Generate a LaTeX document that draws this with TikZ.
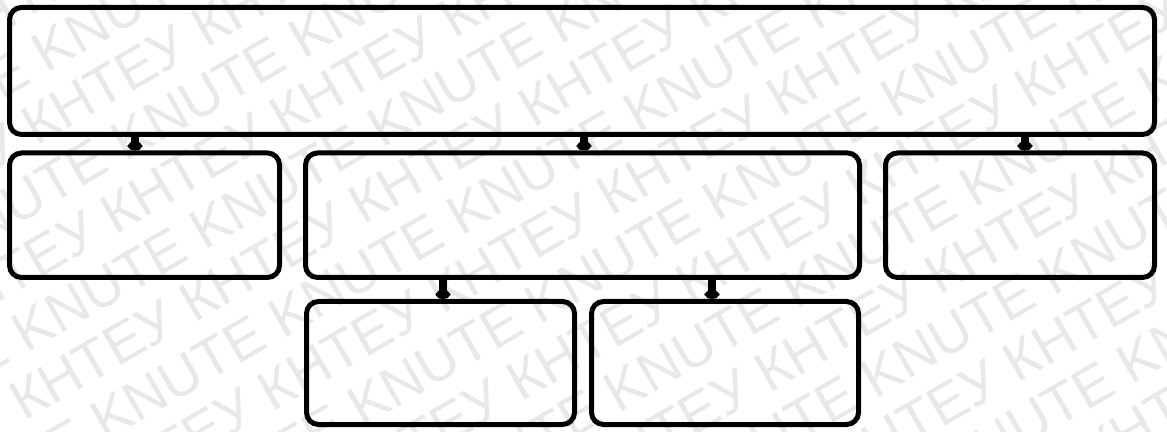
\documentclass[tikz,border=0pt]{standalone}
\usepackage{fontspec}
\newfontfamily\wmfont{Liberation Sans}
\usetikzlibrary{arrows.meta}
\tikzset{
  box/.style={draw=black, line width=5pt, rounded corners=12pt, inner sep=0pt, rectangle},
  link/.style={draw=black, line width=8pt, -{Circle[length=9pt,width=14pt]}},
  wm/.style={text=black!9, anchor=base west, rotate=30, inner sep=0pt,
             font=\wmfont\fontsize{56}{56}\selectfont}
}
\begin{document}
\begin{tikzpicture}[x=1pt,y=1pt]
\useasboundingbox (0,0) rectangle (1167,431);
\begin{scope}
\clip (0,0) rectangle (1167,431);
\foreach \i in {-4,...,16}{
  \pgfmathsetmacro\px{45+39.39*\i-1065.2}
  \pgfmathsetmacro\py{356-44.23*\i-615}
  \ifodd\i
    \node[wm] (wm\i) at (\px,\py) {КНТЕУ КНТЕУ КНТЕУ КНТЕУ КНТЕУ КНТЕУ КНТЕУ КНТЕУ КНТЕУ КНТЕУ КНТЕУ КНТЕУ};
  \else
    \node[wm] (wm\i) at (\px,\py) {KNUTE KNUTE KNUTE KNUTE KNUTE KNUTE KNUTE KNUTE KNUTE KNUTE KNUTE KNUTE};
  \fi
}
\end{scope}
% boxes
\node[box, minimum width=1145pt, minimum height=127pt] (top) at (582,360) {};
\node[box, minimum width=270pt, minimum height=124.5pt] (a) at (144.5,215.75) {};
\node[box, minimum width=554pt, minimum height=124.5pt] (b) at (582.5,215.75) {};
\node[box, minimum width=269pt, minimum height=124.5pt] (c) at (1020,215.75) {};
\node[box, minimum width=268pt, minimum height=123pt] (d) at (440.5,68) {};
\node[box, minimum width=267pt, minimum height=123pt] (e) at (725,68) {};
% connectors
\draw[link] ([xshift=-9.5pt]a.north |- top.south) -- ([xshift=-9.5pt]a.north);
\draw[link] ([xshift=1.5pt]b.north |- top.south) -- ([xshift=1.5pt]b.north);
\draw[link] ([xshift=5pt]c.north |- top.south) -- ([xshift=5pt]c.north);
\draw[link] ([xshift=2.5pt]d.north |- b.south) -- ([xshift=2.5pt]d.north);
\draw[link] ([xshift=-13pt]e.north |- b.south) -- ([xshift=-13pt]e.north);
\end{tikzpicture}
\end{document}
